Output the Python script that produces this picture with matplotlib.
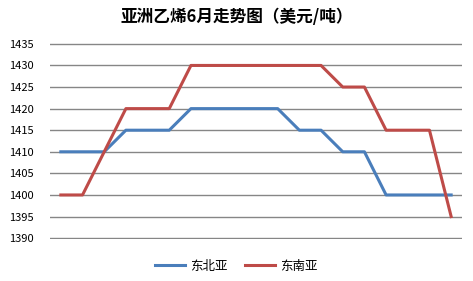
import matplotlib.pyplot as plt

plt.rcParams['font.family'] = ['Noto Sans CJK SC', 'DejaVu Sans']

# daily prices, June (USD/t)
northeast_asia = [1410, 1410, 1410, 1415, 1415, 1415, 1420, 1420, 1420, 1420,
                  1420, 1415, 1415, 1410, 1410, 1400, 1400, 1400, 1400]
southeast_asia = [1400, 1400, 1410, 1420, 1420, 1420, 1430, 1430, 1430, 1430,
                  1430, 1430, 1430, 1425, 1425, 1415, 1415, 1415, 1395]
y_ticks = [1390, 1395, 1400, 1405, 1410, 1415, 1420, 1425, 1430, 1435]

x = list(range(len(northeast_asia)))

fig = plt.figure(figsize=(4.73, 2.81), dpi=100)
ax = fig.add_axes([50 / 473, 1 - 239 / 281, 412 / 473, 196 / 281])

ax.plot(x, northeast_asia, color='#4A7EBB', linewidth=2.2, label='东北亚')
ax.plot(x, southeast_asia, color='#BE4B48', linewidth=2.2, label='东南亚')

ax.set_xlim(-0.5, len(x) - 0.5)
ax.set_ylim(1389.8, 1435.2)
ax.set_yticks(y_ticks)
ax.set_xticks([])
ax.tick_params(axis='y', length=0, labelsize=8, pad=12)
ax.yaxis.grid(True, color='#868686', linewidth=1)
ax.set_axisbelow(True)
for s in ax.spines.values():
    s.set_visible(False)

fig.text(0.5, 1 - 17 / 281, '亚洲乙烯6月走势图（美元/吨）', ha='center', va='center',
         fontsize=12, fontweight='bold')

fig.legend(loc='center', bbox_to_anchor=(0.5, 1 - 266 / 281), ncol=2, frameon=False,
           fontsize=9, handlelength=2.4, columnspacing=1.4, handletextpad=0.4)

fig.savefig('out.png', dpi=100)
